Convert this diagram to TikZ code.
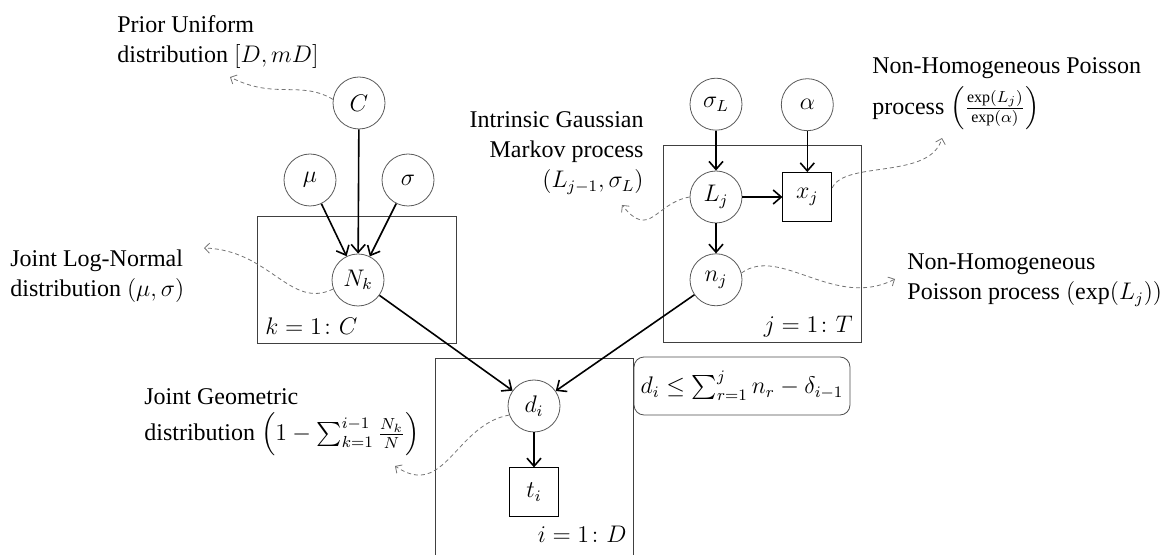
\documentclass[tikz,border=0pt]{standalone}
\usepackage{amsmath}
\usepackage{fontspec}
\setmainfont{Liberation Serif}
\usepackage{tikz}
\usetikzlibrary{arrows.meta,positioning}

\begin{document}
\begin{tikzpicture}[
			x=0.5pt, y=-0.5pt,
			font=\fontsize{12}{15}\selectfont,
			lat/.style={circle, draw=black!65, minimum size=26pt, inner sep=0pt},
			obs/.style={rectangle, draw=black, minimum size=24.5pt, inner sep=0pt},
			plate/.style={draw=black!75},
			note/.style={inner sep=0pt},
			cond/.style={draw=black!70, rounded corners=5pt, minimum width=98pt, minimum height=29pt},
			hint/.style={draw=black!55, dashed, dash pattern=on 2pt off 1.5pt, -{Straight Barb[length=2.5pt,width=5pt]}},
			>={Straight Barb[length=4pt,width=7pt]}
			]
			\useasboundingbox (0,0) rectangle (1173,555);
			
			% Plates
			\draw[plate] (257,216) rectangle (456,343);
			\draw[plate] (663,145) rectangle (861,342);
			\draw[plate] (435,556) -- (435,358) -- (633,358) -- (633,556);
			
			% Number of clusters
			\node[lat] (C) at (359,103) {$C$};
			\node[lat] (mu) at (310,180) {$\mu$};
			\node[lat] (sig) at (408,180) {$\sigma$};
			\node[lat] (N) at (358,280) {$N_k$};
			
			% Latent intensity
			\node[lat] (L) at (716,197) {$L_j$};
			\node[obs] (x) [right=20pt of L] {$x_j$};
			\node[lat] (n) [below=15pt of L] {$n_j$};
			\node[lat] (sL) [above=20pt of L] {$\sigma_L$};
			\node[lat] (al) [above=20.5pt of x] {$\alpha$};
			
			% Arrivals
			\node[lat] (d) at (534,406) {$d_i$};
			\node[obs] (t) [below=17.5pt of d] {$t_i$};
			
			% Plate labels
			\node[note, anchor=base west] (kl) at (265,335) {$k = 1\colon C$};
			\node[note, anchor=base east] (jl) at (853,333) {$j = 1\colon T$};
			\node[note, anchor=base east] (il) at (627,543) {$i = 1\colon D$};
			
			% Constraint
			\node[cond] (cons) at (742,386) {$d_i \le \sum_{r=1}^{j} n_r - \delta_{i-1}$};
			
			% Descriptions
			\node[note, anchor=west, align=left] (tC) at (117,42) {Prior Uniform\\distribution $[D, mD]$};
			\node[note, anchor=west, align=left] (tN) at (10,276) {Joint Log-Normal\\distribution $(\mu, \sigma)$};
			\node[note, anchor=west, align=left] (td) at (144,422) {Joint Geometric\\[3pt]distribution $\left(1 - \sum_{k=1}^{i-1} \frac{N_k}{N}\right)$};
			\node[note, anchor=east, align=right] (tL) at (644,153) {Intrinsic Gaussian\\Markov process\\$(L_{j-1}, \sigma_L)$};
			\node[note, anchor=west, align=left] (tx) at (872,94) {Non-Homogeneous Poisson\\[3pt]process $\left(\frac{\exp(L_j)}{\exp(\alpha)}\right)$};
			\node[note, anchor=west, align=left] (tn) at (907,280) {Non-Homogeneous\\Poisson process $(\exp(L_j))$};
			
			% Dependencies
			\draw[->, thick] (C) -- (N);
			\draw[->, thick] (mu) -- (N);
			\draw[->, thick] (sig) -- (N);
			\draw[->, thick] (N) -- (d);
			\draw[->, thick] (n) -- (d);
			\draw[->, thick] (sL) -- (L);
			\draw[->, thick] (al) -- (x);
			\draw[->, thick] (L) -- (x);
			\draw[->, thick] (L) -- (n);
			\draw[->, thick] (d) -- (t);
			
			% Callouts
			\coordinate (pC) at (230,77);
			\coordinate (pN) at (204,248);
			\coordinate (pL) at (622,205);
			\coordinate (px) at (942,138);
			\coordinate (pn) at (895,279);
			\coordinate (pd) at (395,466);
			\draw[hint] (C.172) .. controls (300,80) and (275,100) .. (pC);
			\draw[hint] (N.200) .. controls (290,310) and (270,250) .. (pN);
			\draw[hint] (L.180) .. controls (655,203) and (650,240) .. (pL);
			\draw[hint] (x.20) .. controls (845,160) and (930,180) .. (px);
			\draw[hint] (n.15) .. controls (780,245) and (835,310) .. (pn);
			\draw[hint] (d.200) .. controls (455,425) and (445,500) .. (pd);
			
		\end{tikzpicture}
\end{document}
